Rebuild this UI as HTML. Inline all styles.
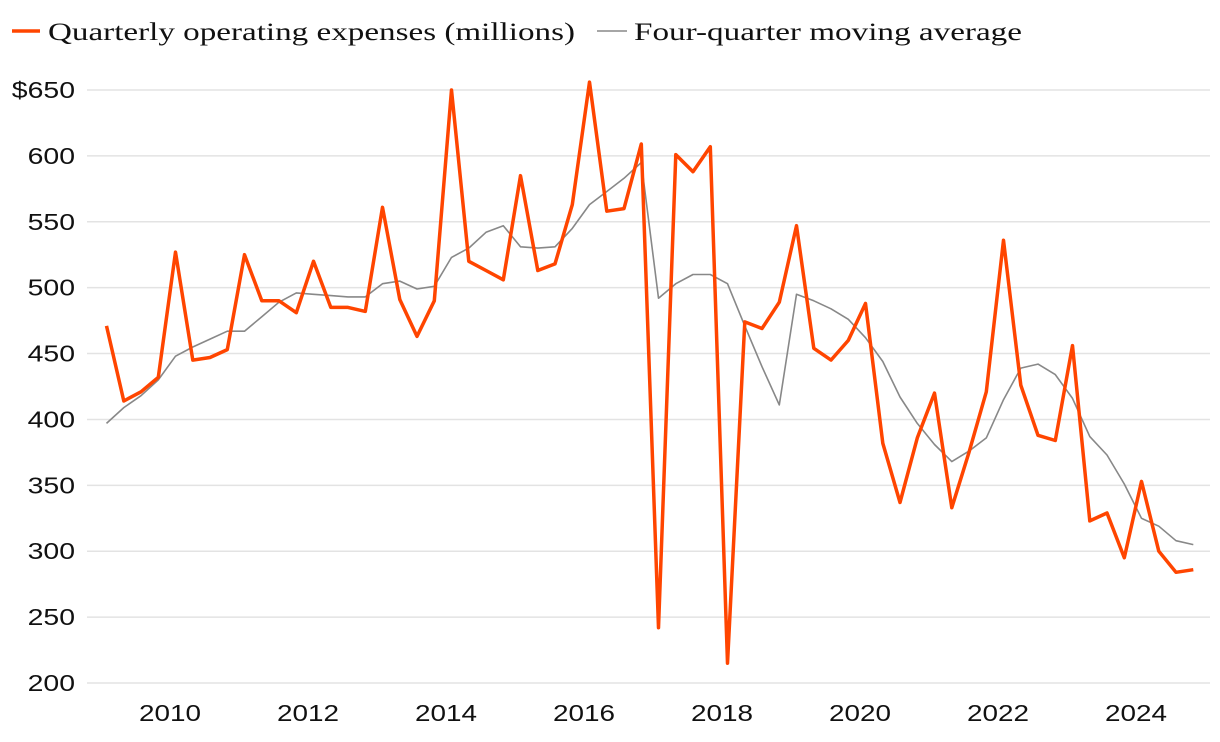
<!DOCTYPE html>
<html><head><meta charset="utf-8"><style>
html,body{margin:0;padding:0;background:#fff;}
svg{display:block;}
.tick{font-family:"Liberation Sans",sans-serif;font-size:23px;fill:#111;}
.leg{font-family:"Liberation Serif",serif;font-size:25px;fill:#111;}
</style></head><body>
<svg id="chart" width="1220" height="742">
<g id="legend">
<line x1="12" y1="31" x2="40" y2="31" stroke="#ff4500" stroke-width="3.5"/>
<text class="leg" x="48" y="40" textLength="527" lengthAdjust="spacingAndGlyphs">Quarterly operating expenses (millions)</text>
<line x1="597" y1="31" x2="627" y2="31" stroke="#888" stroke-width="1.5"/>
<text class="leg" x="634" y="40" textLength="388" lengthAdjust="spacingAndGlyphs">Four-quarter moving average</text>
</g>
<g id="grid"></g><g id="yt"></g><g id="xt"></g><g id="series"></g>
</svg>
<script>
const yTicks=[200,250,300,350,400,450,500,550,600,650];
const xTickYears=[2010,2012,2014,2016,2018,2020,2022,2024];
const startYear=2009.08;
const quarterly=[471,414,421,432,527,445,447,453,525,490,490,481,520,485,485,482,561,491,463,490,650,520,513,506,585,513,518,563,656,558,560,609,242,601,588,607,215,474,469,489,547,454,445,460,488,382,337,386,420,333,375,421,536,426,388,384,456,323,329,295,353,300,284,286];
const movingAvg=[397,409,418,430,448,455,461,467,467,478,489,496,495,494,493,493,503,505,499,501,523,530,542,547,531,530,531,545,563,573,583,595,492,503,510,510,503,471,440,411,495,490,484,476,462,444,417,397,381,368,376,386,415,439,442,434,416,387,373,351,325,319,308,305];
const NS='http://www.w3.org/2000/svg';
const y=v=>683-(v-200)*(683-90)/450;
const x=t=>170+(t-2010)*69;
function mk(tag,attrs,parent){const e=document.createElementNS(NS,tag);for(const k in attrs)e.setAttribute(k,attrs[k]);parent.appendChild(e);return e;}
const grid=document.getElementById('grid'),yt=document.getElementById('yt'),xt=document.getElementById('xt'),ser=document.getElementById('series');
yTicks.forEach(v=>{
 const l=mk('line',{x1:87,x2:1210,y1:y(v),y2:y(v),stroke:'#e3e3e3','stroke-width':1.5},grid);
 
 
 const label=(v===650?'$':'')+v;
 const t=mk('text',{x:75,y:y(v)+8,'text-anchor':'end',class:'tick',textLength:label.length*15.8,lengthAdjust:'spacingAndGlyphs'},yt);
 t.textContent=label;
 
 
});
xTickYears.forEach(yr=>{
 const t=mk('text',{x:x(yr),y:721,'text-anchor':'middle',class:'tick',textLength:62,lengthAdjust:'spacingAndGlyphs'},xt);
 t.textContent=yr;
 
 
});
function pts(arr){return arr.map((v,i)=>x(startYear+i*0.25).toFixed(1)+','+y(v).toFixed(1)).join(' ');}
const ma=mk('polyline',{points:pts(movingAvg),fill:'none',stroke:'#888','stroke-width':1.6,'stroke-linejoin':'round'},ser);


const q=mk('polyline',{points:pts(quarterly),fill:'none',stroke:'#ff4500','stroke-width':3.5,'stroke-linejoin':'round'},ser);


</script>
</body></html>
